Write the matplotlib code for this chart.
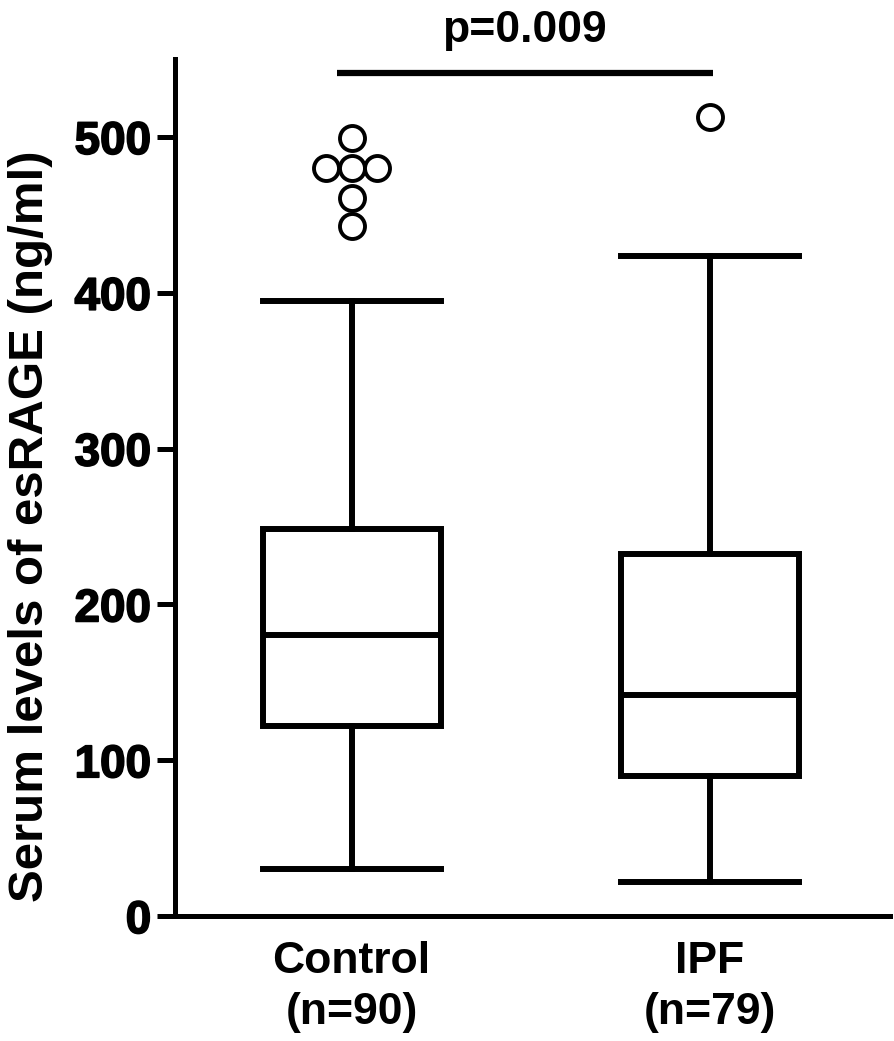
import numpy as np
import matplotlib
matplotlib.use("Agg")
import matplotlib.pyplot as plt
import matplotlib.patheffects as pe

plt.rcParams['font.family'] = ['Liberation Sans', 'DejaVu Sans']
plt.rcParams['font.weight'] = 'bold'

# Data
groups = ["Control\n(n=90)", "IPF\n(n=79)"]
q1 = [121.8, 89.9]
median = [180.4, 141.8]
q3 = [248.2, 232.2]
whisker_low = [30.0, 22.0]
whisker_high = [394.5, 423.8]
outliers = [[499.4, 480.1, 480.1, 480.1, 460.8, 442.6], [513.0]]
p_text = "p=0.009"
bar_y = 541

yticks = [0, 100, 200, 300, 400, 500]

lw = 4.3
fig = plt.figure(figsize=(8.94, 10.41), dpi=100)
ax = fig.add_axes([0.1957, 0.120, 0.7998, 0.8233])

stats = []
for i in range(len(groups)):
    stats.append(dict(med=median[i], q1=q1[i], q3=q3[i],
                      whislo=whisker_low[i], whishi=whisker_high[i],
                      fliers=[], label=groups[i]))

positions = [1, 2]
ax.bxp(stats, positions=positions, widths=0.497, capwidths=0.497,
       patch_artist=True, showfliers=False,
       boxprops=dict(facecolor='white', edgecolor='black', linewidth=lw),
       medianprops=dict(color='black', linewidth=lw),
       whiskerprops=dict(color='black', linewidth=lw),
       capprops=dict(color='black', linewidth=lw))

# outliers: equal values spread sideways like a column scatter
step = 0.071
for pos, vals in zip(positions, outliers):
    vals = np.array(vals)
    xs = np.zeros(len(vals))
    for v in np.unique(vals):
        idx = np.where(vals == v)[0]
        xs[idx] = pos + (np.arange(len(idx)) - (len(idx) - 1) / 2) * step
    ax.plot(xs, vals, 'o', ms=18, mfc='white', mec='black', mew=2.8,
            zorder=5, clip_on=False)

# significance bar
ax.plot([0.959, 2.008], [bar_y, bar_y], color='black', lw=4.5,
        solid_capstyle='butt', clip_on=False)
ax.text(1.483, 555, p_text, ha='center', va='bottom', fontsize=32,
        fontweight='bold')

ax.set_xlim(0.507, 2.502)
ax.set_ylim(0, 550)
ax.set_yticks(yticks)
ax.set_yticklabels([str(t) for t in yticks], fontsize=33, fontweight='bold')
for lab in ax.get_yticklabels():
    lab.set_path_effects([pe.withStroke(linewidth=1.2, foreground='black')])
ax.set_xticks(positions)
ax.set_xticklabels(groups, fontsize=32, fontweight='bold', linespacing=1.3)
ax.tick_params(axis='y', length=13, width=3.6, pad=4)
ax.tick_params(axis='x', length=0, pad=18)
ax.set_ylabel("Serum levels of esRAGE (ng/ml)", fontsize=35.5,
              fontweight='bold')
ax.yaxis.set_label_coords(-0.17, 0.455)

for s in ['top', 'right']:
    ax.spines[s].set_visible(False)
for s in ['left', 'bottom']:
    ax.spines[s].set_linewidth(3.6)

fig.savefig("out.png", dpi=100)
